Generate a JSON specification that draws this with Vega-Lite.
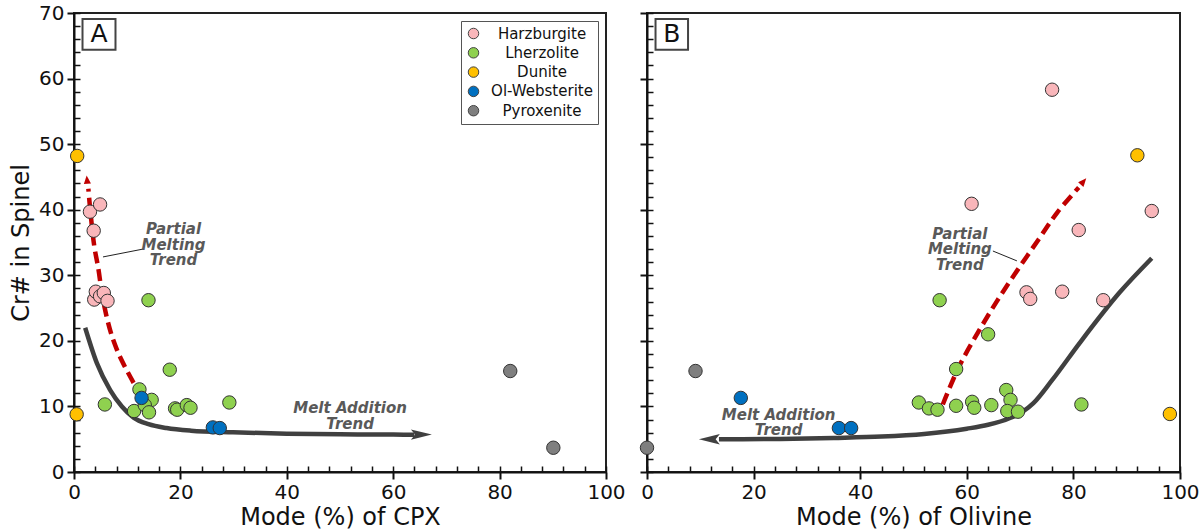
{
  "$schema": "https://vega.github.io/schema/vega-lite/v6.json",
  "background": "white",
  "padding": {"left": 8, "top": 2, "right": 5, "bottom": 5},
  "spacing": 10,
  "config": {
    "font": "DejaVu Sans",
    "view": {"stroke": "#222", "strokeWidth": 2},
    "axisX": {"grid": true, "gridDash": [0, 453, 6, 2000], "gridColor": "#111", "gridWidth": 1.5, "gridOpacity": 1, "labelOverlap": false},
    "axisY": {"grid": true, "gridDash": [6, 2000], "gridColor": "#111", "gridWidth": 1.5, "gridOpacity": 1, "labelOverlap": false}
  },
  "datasets": {
    "pts": [
      {"p": "A", "t": "Harzburgite", "x": 3.0, "y": 39.7},
      {"p": "A", "t": "Harzburgite", "x": 4.9, "y": 40.8},
      {"p": "A", "t": "Harzburgite", "x": 3.7, "y": 36.8},
      {"p": "A", "t": "Harzburgite", "x": 3.8, "y": 26.3},
      {"p": "A", "t": "Harzburgite", "x": 4.1, "y": 27.5},
      {"p": "A", "t": "Harzburgite", "x": 4.9, "y": 26.8},
      {"p": "A", "t": "Harzburgite", "x": 5.6, "y": 27.3},
      {"p": "A", "t": "Harzburgite", "x": 6.3, "y": 26.1},
      {"p": "A", "t": "Lherzolite", "x": 14.0, "y": 26.2},
      {"p": "A", "t": "Lherzolite", "x": 18.0, "y": 15.6},
      {"p": "A", "t": "Lherzolite", "x": 5.8, "y": 10.3},
      {"p": "A", "t": "Lherzolite", "x": 12.3, "y": 12.6},
      {"p": "A", "t": "Lherzolite", "x": 14.6, "y": 11.0},
      {"p": "A", "t": "Lherzolite", "x": 11.3, "y": 9.3},
      {"p": "A", "t": "Lherzolite", "x": 13.3, "y": 10.2},
      {"p": "A", "t": "Lherzolite", "x": 14.1, "y": 9.1},
      {"p": "A", "t": "Lherzolite", "x": 19.0, "y": 9.7},
      {"p": "A", "t": "Lherzolite", "x": 19.4, "y": 9.5},
      {"p": "A", "t": "Lherzolite", "x": 21.2, "y": 10.2},
      {"p": "A", "t": "Lherzolite", "x": 21.9, "y": 9.8},
      {"p": "A", "t": "Lherzolite", "x": 29.2, "y": 10.6},
      {"p": "A", "t": "Dunite", "x": 0.6, "y": 48.2},
      {"p": "A", "t": "Dunite", "x": 0.5, "y": 8.8},
      {"p": "A", "t": "Ol-Websterite", "x": 12.7, "y": 11.3},
      {"p": "A", "t": "Ol-Websterite", "x": 26.1, "y": 6.8},
      {"p": "A", "t": "Ol-Websterite", "x": 27.4, "y": 6.7},
      {"p": "A", "t": "Pyroxenite", "x": 82.0, "y": 15.4},
      {"p": "A", "t": "Pyroxenite", "x": 90.1, "y": 3.7},
      {"p": "B", "t": "Harzburgite", "x": 76.0, "y": 58.3},
      {"p": "B", "t": "Harzburgite", "x": 60.9, "y": 40.9},
      {"p": "B", "t": "Harzburgite", "x": 94.7, "y": 39.8},
      {"p": "B", "t": "Harzburgite", "x": 81.0, "y": 36.9},
      {"p": "B", "t": "Harzburgite", "x": 71.2, "y": 27.4},
      {"p": "B", "t": "Harzburgite", "x": 71.9, "y": 26.4},
      {"p": "B", "t": "Harzburgite", "x": 77.9, "y": 27.5},
      {"p": "B", "t": "Harzburgite", "x": 85.6, "y": 26.2},
      {"p": "B", "t": "Lherzolite", "x": 54.9, "y": 26.2},
      {"p": "B", "t": "Lherzolite", "x": 64.0, "y": 21.0},
      {"p": "B", "t": "Lherzolite", "x": 58.0, "y": 15.7},
      {"p": "B", "t": "Lherzolite", "x": 51.0, "y": 10.6},
      {"p": "B", "t": "Lherzolite", "x": 52.9, "y": 9.7},
      {"p": "B", "t": "Lherzolite", "x": 54.5, "y": 9.5},
      {"p": "B", "t": "Lherzolite", "x": 58.0, "y": 10.1},
      {"p": "B", "t": "Lherzolite", "x": 61.0, "y": 10.7},
      {"p": "B", "t": "Lherzolite", "x": 61.4, "y": 9.8},
      {"p": "B", "t": "Lherzolite", "x": 64.6, "y": 10.2},
      {"p": "B", "t": "Lherzolite", "x": 67.4, "y": 12.5},
      {"p": "B", "t": "Lherzolite", "x": 68.2, "y": 11.0},
      {"p": "B", "t": "Lherzolite", "x": 67.6, "y": 9.3},
      {"p": "B", "t": "Lherzolite", "x": 69.6, "y": 9.2},
      {"p": "B", "t": "Lherzolite", "x": 81.5, "y": 10.3},
      {"p": "B", "t": "Dunite", "x": 92.0, "y": 48.3},
      {"p": "B", "t": "Dunite", "x": 98.1, "y": 8.85},
      {"p": "B", "t": "Ol-Websterite", "x": 17.6, "y": 11.3},
      {"p": "B", "t": "Ol-Websterite", "x": 36.0, "y": 6.7},
      {"p": "B", "t": "Ol-Websterite", "x": 38.3, "y": 6.7},
      {"p": "B", "t": "Pyroxenite", "x": 9.1, "y": 15.4},
      {"p": "B", "t": "Pyroxenite", "x": 0.0, "y": 3.7}
    ],
    "trends": [
      {"p": "A", "t": "melt", "o": 1, "x": 2.1, "y": 22.0},
      {"p": "A", "t": "melt", "o": 2, "x": 4.3, "y": 16.6},
      {"p": "A", "t": "melt", "o": 3, "x": 6.8, "y": 12.5},
      {"p": "A", "t": "melt", "o": 4, "x": 9.0, "y": 10.0},
      {"p": "A", "t": "melt", "o": 5, "x": 11.2, "y": 8.3},
      {"p": "A", "t": "melt", "o": 6, "x": 14.0, "y": 7.3},
      {"p": "A", "t": "melt", "o": 7, "x": 17.4, "y": 6.7},
      {"p": "A", "t": "melt", "o": 8, "x": 22.0, "y": 6.3},
      {"p": "A", "t": "melt", "o": 9, "x": 29.9, "y": 6.05},
      {"p": "A", "t": "melt", "o": 10, "x": 40.0, "y": 5.85},
      {"p": "A", "t": "melt", "o": 11, "x": 50.0, "y": 5.75},
      {"p": "A", "t": "melt", "o": 12, "x": 60.0, "y": 5.7},
      {"p": "A", "t": "melt", "o": 13, "x": 64.0, "y": 5.68},
      {"p": "A", "t": "partial", "o": 1, "x": 11.2, "y": 13.6},
      {"p": "A", "t": "partial", "o": 2, "x": 9.6, "y": 16.0},
      {"p": "A", "t": "partial", "o": 3, "x": 8.3, "y": 18.2},
      {"p": "A", "t": "partial", "o": 4, "x": 7.1, "y": 20.8},
      {"p": "A", "t": "partial", "o": 5, "x": 6.1, "y": 23.8},
      {"p": "A", "t": "partial", "o": 6, "x": 5.2, "y": 27.5},
      {"p": "A", "t": "partial", "o": 7, "x": 4.6, "y": 30.9},
      {"p": "A", "t": "partial", "o": 8, "x": 3.8, "y": 34.5},
      {"p": "A", "t": "partial", "o": 9, "x": 3.1, "y": 39.6},
      {"p": "A", "t": "partial", "o": 10, "x": 2.7, "y": 43.2},
      {"p": "B", "t": "melt", "o": 1, "x": 13.5, "y": 5.0},
      {"p": "B", "t": "melt", "o": 2, "x": 25.0, "y": 5.05},
      {"p": "B", "t": "melt", "o": 3, "x": 35.0, "y": 5.2},
      {"p": "B", "t": "melt", "o": 4, "x": 44.0, "y": 5.4},
      {"p": "B", "t": "melt", "o": 5, "x": 52.0, "y": 5.8},
      {"p": "B", "t": "melt", "o": 6, "x": 60.0, "y": 6.6},
      {"p": "B", "t": "melt", "o": 7, "x": 64.0, "y": 7.2},
      {"p": "B", "t": "melt", "o": 8, "x": 68.0, "y": 8.2},
      {"p": "B", "t": "melt", "o": 9, "x": 70.5, "y": 9.2},
      {"p": "B", "t": "melt", "o": 10, "x": 72.5, "y": 10.5},
      {"p": "B", "t": "melt", "o": 11, "x": 76.0, "y": 14.0},
      {"p": "B", "t": "melt", "o": 12, "x": 81.2, "y": 19.7},
      {"p": "B", "t": "melt", "o": 13, "x": 88.7, "y": 27.4},
      {"p": "B", "t": "melt", "o": 14, "x": 94.7, "y": 32.6},
      {"p": "B", "t": "partial", "o": 1, "x": 55.5, "y": 10.3},
      {"p": "B", "t": "partial", "o": 2, "x": 58.5, "y": 16.0},
      {"p": "B", "t": "partial", "o": 3, "x": 62.4, "y": 21.7},
      {"p": "B", "t": "partial", "o": 4, "x": 66.0, "y": 26.5},
      {"p": "B", "t": "partial", "o": 5, "x": 69.6, "y": 30.9},
      {"p": "B", "t": "partial", "o": 6, "x": 73.5, "y": 35.5},
      {"p": "B", "t": "partial", "o": 7, "x": 77.0, "y": 39.6},
      {"p": "B", "t": "partial", "o": 8, "x": 81.0, "y": 43.4}
    ],
    "arrows": [
      {"p": "A", "t": "partial", "x": 2.45, "y": 44.6},
      {"p": "A", "t": "melt", "x": 65.3, "y": 5.7},
      {"p": "B", "t": "partial", "x": 81.9, "y": 44.3},
      {"p": "B", "t": "melt", "x": 11.7, "y": 5.0}
    ],
    "notes": [
      {"p": "A", "t": "partial", "x": 18.7, "y": 37.0, "text": "Partial\nMelting\nTrend"},
      {"p": "A", "t": "melt", "x": 51.9, "y": 9.7, "text": "Melt Addition\nTrend"},
      {"p": "B", "t": "partial", "x": 58.7, "y": 36.3, "text": "Partial\nMelting\nTrend"},
      {"p": "B", "t": "melt", "x": 24.7, "y": 8.7, "text": "Melt Addition\nTrend"}
    ],
    "leaders": [
      {"p": "A", "o": 1, "x": 5.45, "y": 32.8},
      {"p": "A", "o": 2, "x": 13.0, "y": 34.0},
      {"p": "B", "o": 1, "x": 64.9, "y": 33.7},
      {"p": "B", "o": 2, "x": 69.4, "y": 32.2}
    ],
    "boxes": [
      {"p": "A", "x": 1.6, "x2": 7.8, "y": 64.4, "y2": 69.1},
      {"p": "B", "x": 1.6, "x2": 7.7, "y": 64.4, "y2": 69.1}
    ],
    "letters": [
      {"p": "A", "x": 4.7, "y": 66.75, "label": "A"},
      {"p": "B", "x": 4.65, "y": 66.75, "label": "B"}
    ]
  },
  "resolve": {"scale": {"color": "independent"}, "legend": {"color": "independent"}},
  "hconcat": [
    {
      "width": 532,
      "height": 459,
      "encoding": {
        "x": {"field": "x", "type": "quantitative", "scale": {"domain": [0, 100], "nice": false},
          "axis": {"orient": "bottom", "values": [0,4,8,12,16,20,24,28,32,36,40,44,48,52,56,60,64,68,72,76,80,84,88,92,96,100],
            "labelExpr": "datum.value % 20 === 0 ? datum.label : ''", "labelOverlap": false,
            "tickSize": 7, "tickWidth": 2, "tickColor": "#111",
            "tickOpacity": {"condition": {"test": "datum.value % 20 === 0", "value": 1}, "value": 0},
            "grid": true, "gridColor": "#111", "gridWidth": 1.5, "gridOpacity": 1, "gridDash": [0, 453, 6, 2000],
            "domainColor": "#111", "domainWidth": 2, "labelFontSize": 20, "labelColor": "#111", "labelPadding": 3, "labelFlush": false,
            "title": "Mode (%) of CPX", "titleFontSize": 24, "titleFontWeight": "normal", "titleColor": "#111", "titlePadding": 3}},
        "y": {"field": "y", "type": "quantitative", "scale": {"domain": [0, 70], "nice": false},
          "axis": {"orient": "left", "values": [0,2,4,6,8,10,12,14,16,18,20,22,24,26,28,30,32,34,36,38,40,42,44,46,48,50,52,54,56,58,60,62,64,66,68,70],
            "labelExpr": "datum.value % 10 === 0 ? datum.label : ''", "labelOverlap": false,
            "tickSize": 7, "tickWidth": 2, "tickColor": "#111",
            "tickOpacity": {"condition": {"test": "datum.value % 10 === 0", "value": 1}, "value": 0},
            "grid": true, "gridColor": "#111", "gridWidth": 1.5, "gridOpacity": 1, "gridDash": [6, 2000],
            "domainColor": "#111", "domainWidth": 2, "labelFontSize": 20, "labelColor": "#111", "labelPadding": 3, "labelFlush": false,
            "title": "Cr# in Spinel", "titleFontSize": 24, "titleFontWeight": "normal", "titleColor": "#111", "titlePadding": 5}}
      },
      "layer": [
        {
          "data": {"name": "trends"},
          "transform": [{"filter": "datum.p == 'A' && datum.t == 'melt'"}],
          "mark": {"type": "line", "interpolate": "monotone", "color": "#404040", "strokeWidth": 4.5},
          "encoding": {"order": {"field": "o", "type": "quantitative"}}
        },
        {
          "data": {"name": "trends"},
          "transform": [{"filter": "datum.p == 'A' && datum.t == 'partial'"}],
          "mark": {"type": "line", "interpolate": "catmull-rom", "color": "#C00000", "strokeWidth": 4.5, "strokeDash": [12, 6]},
          "encoding": {"order": {"field": "o", "type": "quantitative"}}
        },
        {
          "data": {"name": "leaders"},
          "transform": [{"filter": "datum.p == 'A'"}],
          "mark": {"type": "line", "color": "#222", "strokeWidth": 1},
          "encoding": {"order": {"field": "o", "type": "quantitative"}}
        },
        {
          "data": {"name": "arrows"},
          "transform": [{"filter": "datum.p == 'A' && datum.t == 'partial'"}],
          "mark": {"type": "point", "shape": "M0,-1L0.85,1L-0.85,1Z", "size": 70, "filled": true, "color": "#C00000", "opacity": 1, "angle": -5},
          "encoding": {}
        },
        {
          "data": {"name": "arrows"},
          "transform": [{"filter": "datum.p == 'A' && datum.t == 'melt'"}],
          "mark": {"type": "point", "shape": "M1,0L-1,-0.5L-0.6,0L-1,0.5Z", "size": 440, "filled": true, "color": "#404040", "opacity": 1},
          "encoding": {}
        },
        {
          "data": {"name": "notes"},
          "transform": [{"filter": "datum.p == 'A'"}],
          "mark": {"type": "text", "lineBreak": "\n", "lineHeight": 15.5, "fontSize": 15, "fontWeight": "bold", "fontStyle": "italic", "color": "#595959", "align": "center", "baseline": "middle"},
          "encoding": {"text": {"field": "text"}}
        },
        {
          "data": {"name": "boxes"},
          "transform": [{"filter": "datum.p == 'A'"}],
          "mark": {"type": "rect", "fill": "white", "stroke": "#444", "strokeWidth": 2},
          "encoding": {"x2": {"field": "x2"}, "y2": {"field": "y2"}}
        },
        {
          "data": {"name": "letters"},
          "transform": [{"filter": "datum.p == 'A'"}],
          "mark": {"type": "text", "fontSize": 25, "color": "#111", "align": "center", "baseline": "middle"},
          "encoding": {"text": {"field": "label"}}
        },
        {
          "data": {"name": "pts"},
          "transform": [{"filter": "datum.p == 'A'"}],
          "mark": {"type": "point", "shape": "circle", "filled": true, "size": 180, "opacity": 1, "stroke": "#333", "strokeWidth": 1},
          "encoding": {
            "color": {"field": "t", "type": "nominal",
              "scale": {"domain": ["Harzburgite", "Lherzolite", "Dunite", "Ol-Websterite", "Pyroxenite"], "range": ["#F9B6BA", "#8FD14F", "#FFC000", "#0070C0", "#7F7F7F"]},
              "legend": {"orient": "top-right", "offset": 8, "title": null, "strokeColor": "#555", "fillColor": "white", "padding": 5, "symbolType": "circle", "symbolSize": 110, "symbolStrokeColor": "#444", "symbolStrokeWidth": 1, "symbolOpacity": 1, "labelFontSize": 15, "labelColor": "#111", "labelAlign": "center", "labelOffset": 61, "rowPadding": 3.3}}
          }
        }
      ]
    },
    {
      "width": 533,
      "height": 459,
      "encoding": {
        "x": {"field": "x", "type": "quantitative", "scale": {"domain": [0, 100], "nice": false},
          "axis": {"orient": "bottom", "values": [0,4,8,12,16,20,24,28,32,36,40,44,48,52,56,60,64,68,72,76,80,84,88,92,96,100],
            "labelExpr": "datum.value % 20 === 0 ? datum.label : ''", "labelOverlap": false,
            "tickSize": 7, "tickWidth": 2, "tickColor": "#111",
            "tickOpacity": {"condition": {"test": "datum.value % 20 === 0", "value": 1}, "value": 0},
            "grid": true, "gridColor": "#111", "gridWidth": 1.5, "gridOpacity": 1, "gridDash": [0, 453, 6, 2000],
            "domainColor": "#111", "domainWidth": 2, "labelFontSize": 20, "labelColor": "#111", "labelPadding": 3, "labelFlush": false,
            "title": "Mode (%) of Olivine", "titleFontSize": 24, "titleFontWeight": "normal", "titleColor": "#111", "titlePadding": 3}},
        "y": {"field": "y", "type": "quantitative", "scale": {"domain": [0, 70], "nice": false},
          "axis": {"orient": "left", "values": [0,2,4,6,8,10,12,14,16,18,20,22,24,26,28,30,32,34,36,38,40,42,44,46,48,50,52,54,56,58,60,62,64,66,68,70],
            "labels": false,
            "tickSize": 7, "tickWidth": 2, "tickColor": "#111",
            "tickOpacity": {"condition": {"test": "datum.value % 10 === 0", "value": 1}, "value": 0},
            "grid": true, "gridColor": "#111", "gridWidth": 1.5, "gridOpacity": 1, "gridDash": [6, 2000],
            "domainColor": "#111", "domainWidth": 2, "title": null}}
      },
      "layer": [
        {
          "data": {"name": "trends"},
          "transform": [{"filter": "datum.p == 'B' && datum.t == 'melt'"}],
          "mark": {"type": "line", "interpolate": "monotone", "color": "#404040", "strokeWidth": 4.5},
          "encoding": {"order": {"field": "o", "type": "quantitative"}}
        },
        {
          "data": {"name": "trends"},
          "transform": [{"filter": "datum.p == 'B' && datum.t == 'partial'"}],
          "mark": {"type": "line", "interpolate": "catmull-rom", "color": "#C00000", "strokeWidth": 4.5, "strokeDash": [12, 6]},
          "encoding": {"order": {"field": "o", "type": "quantitative"}}
        },
        {
          "data": {"name": "leaders"},
          "transform": [{"filter": "datum.p == 'B'"}],
          "mark": {"type": "line", "color": "#222", "strokeWidth": 1},
          "encoding": {"order": {"field": "o", "type": "quantitative"}}
        },
        {
          "data": {"name": "arrows"},
          "transform": [{"filter": "datum.p == 'B' && datum.t == 'partial'"}],
          "mark": {"type": "point", "shape": "M0,-1L0.85,1L-0.85,1Z", "size": 70, "filled": true, "color": "#C00000", "opacity": 1, "angle": 41},
          "encoding": {}
        },
        {
          "data": {"name": "arrows"},
          "transform": [{"filter": "datum.p == 'B' && datum.t == 'melt'"}],
          "mark": {"type": "point", "shape": "M-1,0L1,-0.5L0.6,0L1,0.5Z", "size": 440, "filled": true, "color": "#404040", "opacity": 1},
          "encoding": {}
        },
        {
          "data": {"name": "notes"},
          "transform": [{"filter": "datum.p == 'B'"}],
          "mark": {"type": "text", "lineBreak": "\n", "lineHeight": 15.5, "fontSize": 15, "fontWeight": "bold", "fontStyle": "italic", "color": "#595959", "align": "center", "baseline": "middle"},
          "encoding": {"text": {"field": "text"}}
        },
        {
          "data": {"name": "boxes"},
          "transform": [{"filter": "datum.p == 'B'"}],
          "mark": {"type": "rect", "fill": "white", "stroke": "#444", "strokeWidth": 2},
          "encoding": {"x2": {"field": "x2"}, "y2": {"field": "y2"}}
        },
        {
          "data": {"name": "letters"},
          "transform": [{"filter": "datum.p == 'B'"}],
          "mark": {"type": "text", "fontSize": 25, "color": "#111", "align": "center", "baseline": "middle"},
          "encoding": {"text": {"field": "label"}}
        },
        {
          "data": {"name": "pts"},
          "transform": [{"filter": "datum.p == 'B'"}],
          "mark": {"type": "point", "shape": "circle", "filled": true, "size": 180, "opacity": 1, "stroke": "#333", "strokeWidth": 1},
          "encoding": {
            "color": {"field": "t", "type": "nominal",
              "scale": {"domain": ["Harzburgite", "Lherzolite", "Dunite", "Ol-Websterite", "Pyroxenite"], "range": ["#F9B6BA", "#8FD14F", "#FFC000", "#0070C0", "#7F7F7F"]},
              "legend": null}
          }
        }
      ]
    }
  ]
}
